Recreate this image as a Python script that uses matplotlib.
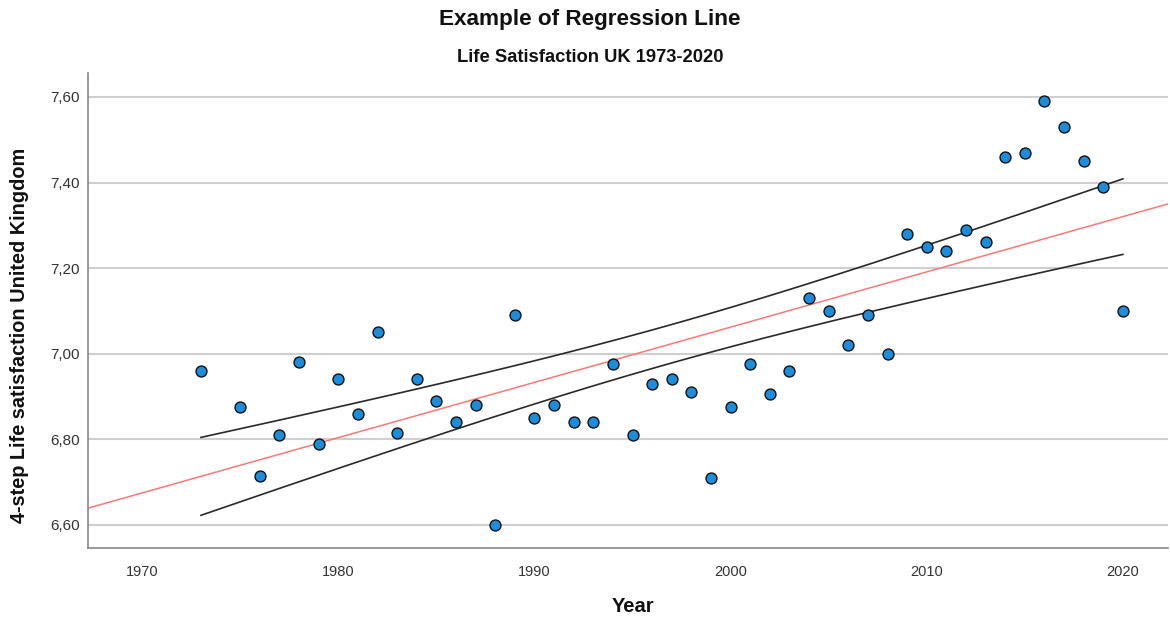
import numpy as np
import matplotlib
matplotlib.use("Agg")
import matplotlib.pyplot as plt
from matplotlib.ticker import FuncFormatter

plt.rcParams['font.family'] = ['Liberation Sans', 'DejaVu Sans']

years = [1973, 1975, 1976, 1977, 1978, 1979, 1980, 1981, 1982, 1983, 1984,
         1985, 1986, 1987, 1988, 1989, 1990, 1991, 1992, 1993, 1994, 1995,
         1996, 1997, 1998, 1999, 2000, 2001, 2002, 2003, 2004, 2005, 2006,
         2007, 2008, 2009, 2010, 2011, 2012, 2013, 2014, 2015, 2016, 2017,
         2018, 2019, 2020]
satisfaction = [6.96, 6.875, 6.715, 6.81, 6.98, 6.79, 6.94, 6.86, 7.05, 6.815, 6.94,
                6.89, 6.84, 6.88, 6.60, 7.09, 6.85, 6.88, 6.84, 6.84, 6.975, 6.81,
                6.93, 6.94, 6.91, 6.71, 6.875, 6.975, 6.905, 6.96, 7.13, 7.10, 7.02,
                7.09, 7.00, 7.28, 7.25, 7.24, 7.29, 7.26, 7.46, 7.47, 7.59, 7.53,
                7.45, 7.39, 7.10]
x_ticks = [1970, 1980, 1990, 2000, 2010, 2020]
y_ticks = [6.60, 6.80, 7.00, 7.20, 7.40, 7.60]

x = np.array(years, dtype=float)
y = np.array(satisfaction, dtype=float)

# OLS fit and 95% confidence band for the mean
n = len(x)
slope, intercept = np.polyfit(x, y, 1)
resid = y - (slope * x + intercept)
s = np.sqrt(np.sum(resid ** 2) / (n - 2))
xbar = x.mean()
sxx = np.sum((x - xbar) ** 2)
t_crit = 2.014  # t(0.975, df=45)

fig = plt.figure(figsize=(11.7, 6.21), dpi=100)
ax = fig.add_axes([88 / 1170, 1 - 548 / 621, 1080 / 1170, 475 / 621])

xlim = (1967.24, 2022.3)
ylim = (6.546, 7.656)
ax.set_xlim(*xlim)
ax.set_ylim(*ylim)

for yt in y_ticks:
    ax.axhline(yt, color='#cfcfcf', lw=1.5, zorder=0)

xl = np.linspace(xlim[0], xlim[1], 200)
ax.plot(xl, slope * xl + intercept, color='#f77a7a', lw=1.1, zorder=2)

xb = np.linspace(x.min(), x.max(), 200)
se = s * np.sqrt(1 / n + (xb - xbar) ** 2 / sxx)
fit_b = slope * xb + intercept
ax.plot(xb, fit_b + t_crit * se, color='#2a2a2a', lw=1.2, zorder=2)
ax.plot(xb, fit_b - t_crit * se, color='#2a2a2a', lw=1.2, zorder=2)

ax.scatter(x, y, s=62, color='#1c8ddb', edgecolors='#111111', linewidths=1.0, zorder=3)

ax.set_xticks(x_ticks)
ax.set_yticks(y_ticks)
ax.yaxis.set_major_formatter(FuncFormatter(lambda v, p: f"{v:.2f}".replace('.', ',')))
ax.tick_params(axis='x', length=0, labelsize=10.5, colors='#333333', pad=12)
ax.tick_params(axis='y', length=0, labelsize=11, colors='#333333', pad=6)

for side in ['top', 'right']:
    ax.spines[side].set_visible(False)
for side in ['left', 'bottom']:
    ax.spines[side].set_color('#888888')
    ax.spines[side].set_linewidth(1.2)

fig.text(590 / 1170, 1 - 20 / 621, 'Example of Regression Line', ha='center', va='center',
         fontsize=16.2, fontweight='bold', color='#111111')
fig.text(590 / 1170, 1 - 58 / 621, 'Life Satisfaction UK 1973-2020', ha='center', va='center',
         fontsize=13.2, fontweight='bold', color='#111111')
fig.text(633 / 1170, 1 - 607 / 621, 'Year', ha='center', va='center',
         fontsize=14.5, fontweight='bold', color='#111111')
fig.text(20 / 1170, 1 - 335 / 621, '4-step Life satisfaction United Kingdom', ha='center',
         va='center', rotation=90, fontsize=14.3, fontweight='bold', color='#111111')

fig.savefig('out.png', dpi=100)
